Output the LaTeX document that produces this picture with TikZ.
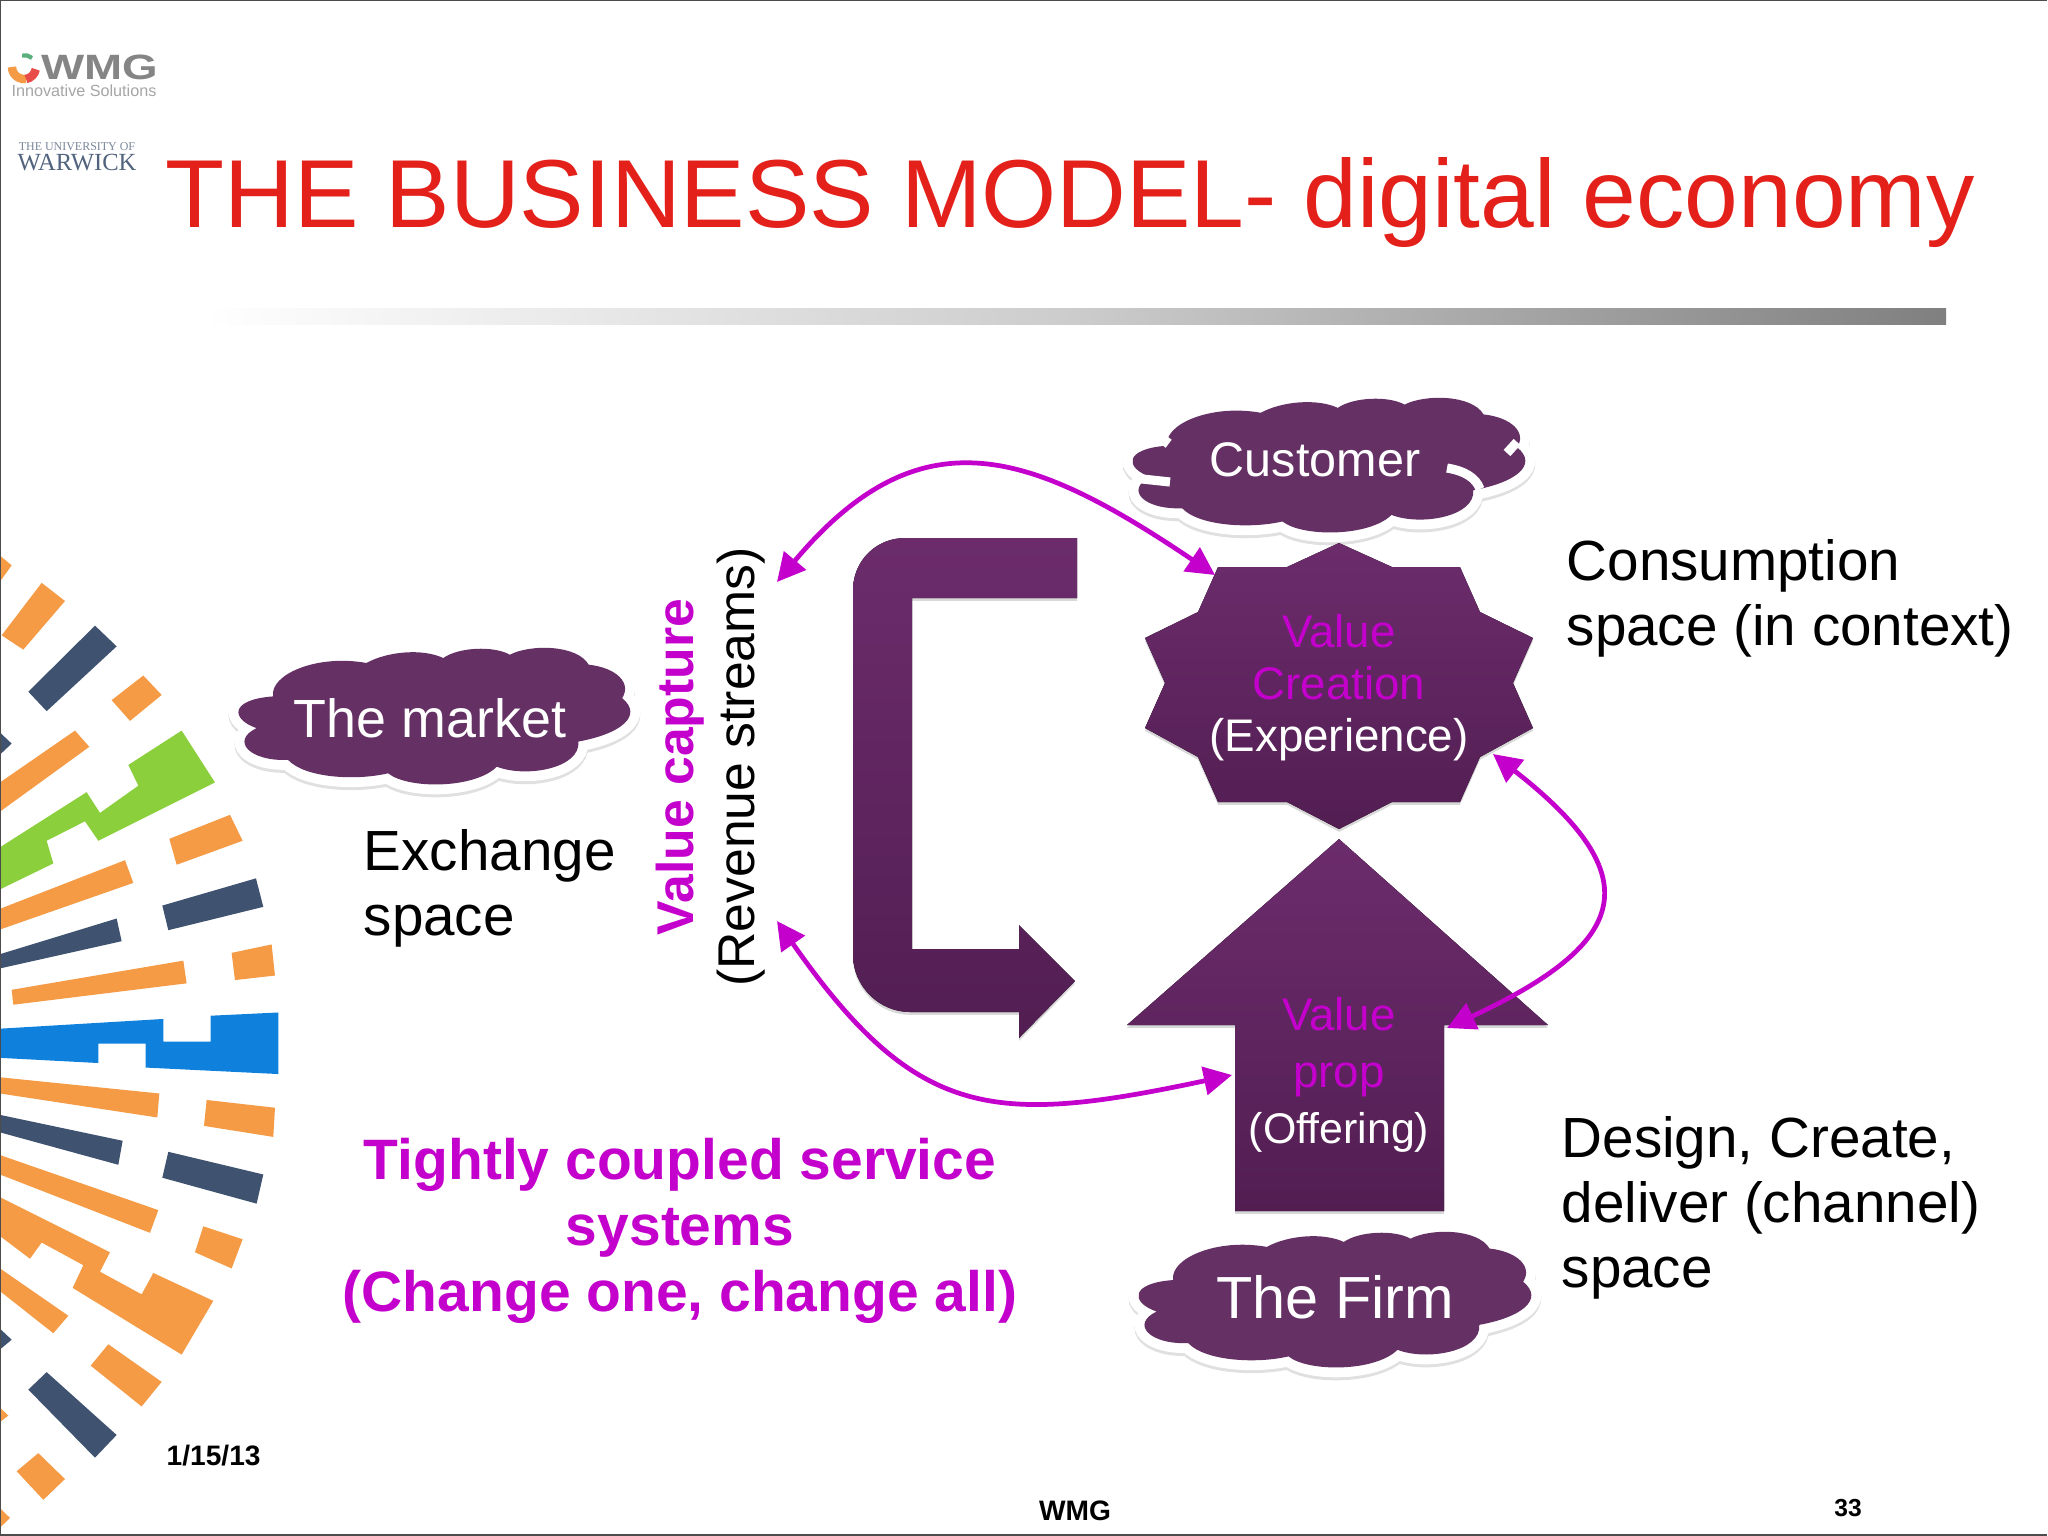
\documentclass[tikz,border=0pt]{standalone}
\usepackage{fontspec}
\setmainfont{Liberation Sans}
\newfontfamily\warwickfont{Liberation Serif}
\usetikzlibrary{positioning, arrows.meta, calc, shadows}
\definecolor{plumtop}{HTML}{6C2C6C}
\definecolor{plumlow}{HTML}{521E52}
\definecolor{plumcloud}{HTML}{653064}
\definecolor{linkmagenta}{HTML}{C400CC}
\definecolor{titlered}{HTML}{E4201A}
\definecolor{barorange}{HTML}{F59A45}
\definecolor{barnavy}{HTML}{3F5270}
\definecolor{bargreen}{HTML}{8CCF3C}
\definecolor{barblue}{HTML}{0F80DC}
\newcommand{\puffpath}{(8.9,35.8) .. controls (8,20) and (20,5) .. (32.6,11.6) .. controls (38,3) and (47,1) .. (52.1,8)
    .. controls (56,0) and (65,-1) .. (69,5.6) .. controls (74,-2) and (86,-2) .. (89,12.8)
    .. controls (96,15) and (100,26) .. (97.5,37) .. controls (103,50) and (97,63) .. (86.4,68.5)
    .. controls (87,88) and (73,95) .. (65.7,86.7) .. controls (60,103) and (43,103) .. (38.1,91.5)
    .. controls (30,97) and (17,95) .. (12.7,81.8)
    .. controls (3,83) and (-2,68) .. (4.7,58.8) .. controls (-2,52) and (-2,38) .. (8.9,35.8) -- cycle}
\newcommand{\puffcloud}[4]{%
    \path[draw=black!12, line width=5.6pt, shift={(#1,#2+3)}, xscale=#3/100, yscale=#4/100] \puffpath;
    \path[draw=white, line width=5.6pt, shift={(#1,#2)}, xscale=#3/100, yscale=#4/100] \puffpath;
    \path[fill=plumcloud, shift={(#1,#2)}, xscale=#3/100, yscale=#4/100] \puffpath;}

\begin{document}
\begin{tikzpicture}[
            x=0.01cm, y=-0.01cm,
            plumshape/.style={top color=plumtop, bottom color=plumlow, drop shadow={shadow xshift=0pt, shadow yshift=-.8pt, opacity=.3}},
            cloudtext/.style={text=white, anchor=center},
            bodytext/.style={align=left, anchor=west, inner sep=0pt, font=\fontsize{16.1}{18.5}\selectfont},
            shapetext/.style={align=center, text=white},
            hottext/.style={text=linkmagenta},
            footnote/.style={font=\fontsize{8}{9}\selectfont\bfseries},
            link/.style={draw=linkmagenta, line width=1.35pt, {Triangle[length=8pt,width=8pt]}-{Triangle[length=8pt,width=8pt]}},
            orangebar/.style={fill=barorange},
            navybar/.style={fill=barnavy}
        ]
            \useasboundingbox (0,0) rectangle (2048,1536);
            \fill[white] (0,0) rectangle (2048,1536);

            % Sunburst on the left
            \begin{scope}[shift={(0,520)}, xscale=0.3333, yscale=0.648]
                \fill[orangebar] (0,55) -- (35,70) -- (0,95) -- cycle;
                \fill[orangebar] (5,178) -- (125,97) -- (195,125) -- (70,200) -- cycle;
                \fill[navybar] (85,265) -- (285,163) -- (350,195) -- (140,295) -- cycle;
                \fill[orangebar] (335,278) -- (430,240) -- (485,270) -- (390,310) -- cycle;
                \fill[navybar] (0,328) -- (35,345) -- (0,362) -- cycle;
                \fill[orangebar] (0,405) -- (225,325) -- (268,350) -- (0,450) -- cycle;
                \fill[bargreen] (0,505) -- (260,420) -- (300,452) -- (415,410) -- (385,378) -- (545,325) -- (645,405) -- (295,495) -- (255,465) -- (140,495) -- (160,530) -- (0,570) -- cycle;
                \fill[orangebar] (508,492) -- (690,455) -- (728,495) -- (530,532) -- cycle;
                \fill[orangebar] (0,600) -- (375,525) -- (400,560) -- (0,632) -- cycle;
                \fill[navybar] (487,595) -- (768,553) -- (790,597) -- (505,633) -- cycle;
                \fill[navybar] (0,670) -- (350,615) -- (365,650) -- (0,692) -- cycle;
                \fill[orangebar] (695,668) -- (815,655) -- (825,703) -- (705,710) -- cycle;
                \fill[orangebar] (35,725) -- (550,680) -- (560,715) -- (40,748) -- cycle;
                \fill[barblue] (0,785) -- (490,770) -- (490,805) -- (632,805) -- (632,765) -- (835,760) -- (835,855) -- (437,845) -- (437,808) -- (295,808) -- (295,838) -- (0,830) -- cycle;
                \fill[orangebar] (0,860) -- (478,885) -- (472,922) -- (0,885) -- cycle;
                \fill[orangebar] (620,895) -- (825,907) -- (820,952) -- (612,935) -- cycle;
                \fill[navybar] (0,918) -- (368,958) -- (355,995) -- (0,945) -- cycle;
                \fill[navybar] (505,975) -- (790,1010) -- (770,1055) -- (487,1015) -- cycle;
                \fill[orangebar] (0,980) -- (475,1065) -- (450,1100) -- (0,1010) -- cycle;
                \fill[orangebar] (610,1090) -- (728,1110) -- (695,1155) -- (585,1130) -- cycle;
                \fill[orangebar] (0,1045) -- (330,1130) -- (300,1160) -- (425,1195) -- (460,1162) -- (640,1205) -- (545,1288) -- (218,1185) -- (250,1150) -- (125,1115) -- (90,1140) -- (0,1105) -- cycle;
                \fill[orangebar] (0,1155) -- (205,1228) -- (160,1255) -- (0,1190) -- cycle;
                \fill[navybar] (0,1248) -- (35,1265) -- (0,1280) -- cycle;
                \fill[orangebar] (325,1272) -- (485,1330) -- (425,1368) -- (272,1305) -- cycle;
                \fill[navybar] (140,1315) -- (350,1412) -- (285,1447) -- (85,1342) -- cycle;
                \fill[orangebar] (0,1370) -- (25,1382) -- (0,1392) -- cycle;
                \fill[orangebar] (115,1440) -- (195,1480) -- (130,1512) -- (50,1468) -- cycle;
                \fill[orangebar] (0,1525) -- (30,1540) -- (0,1555) -- cycle;
            \end{scope}

            % Logos
            \draw[barorange, line width=2.4pt] (12,67) arc (-180:-280:12);
            \draw[titlered!80, line width=2.4pt] (26,79) arc (-280:-350:12);
            \draw[bargreen!60!barblue, line width=1.2pt] (32,58) arc (-50:-100:12);
            \node[font=\fontsize{10}{12}\selectfont\bfseries, text=black!48, xscale=1.3, inner sep=0pt] (wmglogo) at (100,67) {WMG};
            \node[font=\fontsize{4.6}{5}\selectfont, text=black!35, inner sep=0pt] (wmgtag) at (84,91) {Innovative Solutions};
            \node[font=\warwickfont\fontsize{3.4}{4}\selectfont, text=barnavy!70, inner sep=0pt] (warwicktop) at (77,147) {THE UNIVERSITY OF};
            \node[font=\warwickfont\fontsize{7}{8}\selectfont, text=barnavy!90, inner sep=0pt] (warwick) at (77,163) {WARWICK};

            % Title and rule
            \node[anchor=west, inner sep=0pt, text=titlered, font=\fontsize{27.47}{30}\selectfont] (title) at (165,203) {THE BUSINESS MODEL- digital economy};
            \shade[left color=white, right color=black!50, middle color=black!20] (202,308) rectangle (1946,324);

            % Clouds
            \puffcloud{238}{647}{394}{138}
            \puffcloud{1132}{397}{395}{136}
            \puffcloud{1138}{1231}{395}{137}
            \draw[white, line width=2.6pt] (1447,468) .. controls (1465,471) and (1476,478) .. (1480,489);
            \draw[white, line width=2.6pt] (1133,478) -- (1170,482);
            \draw[white, line width=2.6pt] (1507,453) -- (1517,442);
            \draw[white, line width=2.6pt] (1168,437) -- (1162,445);
            \node[cloudtext, font=\fontsize{15.3}{18}\selectfont] (market) at (430,718) {The market};
            \node[cloudtext, font=\fontsize{13.8}{16}\selectfont] (customer) at (1315,460) {Customer};
            \node[cloudtext, font=\fontsize{16.9}{19}\selectfont] (firm) at (1335,1297) {The Firm};

            % Big bent arrow
            \fill[plumshape] (1077,538) -- (905,538) .. controls (876,538) and (853,561) .. (853,590) -- (853,955) .. controls (853,986) and (879,1012) .. (910,1012) -- (1019,1012) -- (1019,1038) -- (1075,981) -- (1019,925) -- (1019,949) -- (912,949) -- (912,598) -- (1077,598) -- cycle;

            % Value creation star
            \fill[plumshape] (1339,543) -- (1392,567) -- (1460,567) -- (1480,612) -- (1533,638) -- (1513,683) -- (1533,728) -- (1480,757) -- (1460,802) -- (1392,802) -- (1339,829) -- (1287,802) -- (1218,802) -- (1198,757) -- (1145,728) -- (1165,683) -- (1145,638) -- (1198,612) -- (1218,567) -- (1287,567) -- cycle;
            \node[shapetext, font=\fontsize{13}{14.8}\selectfont] (creation) at (1339,688) {\textcolor{linkmagenta}{Value}\\\textcolor{linkmagenta}{Creation}\\(Experience)};

            % Value prop arrow
            \fill[plumshape] (1339,839) -- (1548,1025) -- (1444,1025) -- (1444,1211) -- (1235,1211) -- (1235,1025) -- (1127,1025) -- cycle;
            \node[shapetext, font=\fontsize{13}{16}\selectfont] (prop) at (1339,1075) {\textcolor{linkmagenta}{Value}\\\textcolor{linkmagenta}{prop}\\\fontsize{12.2}{14.5}\selectfont(Offering)};

            % Side labels
            \node[bodytext] (exchange) at (363,888) {Exchange\\space};
            \node[bodytext] (consumption) at (1566,598) {Consumption\\space (in context)};
            \node[bodytext] (design) at (1561,1208) {Design, Create,\\deliver (channel)\\space};
            \node[align=center, rotate=90, font=\fontsize{14.7}{17.4}\selectfont] (capture) at (711,767) {\textcolor{linkmagenta}{\textbf{Value capture}}\\(Revenue streams)};
            \node[align=center, hottext, font=\fontsize{16.2}{18.7}\selectfont\bfseries] (coupled) at (680,1231) {Tightly coupled service\\systems\\(Change one, change all)};

            % Connector ends
            \coordinate (captureTop) at (777,582);
            \coordinate (captureLow) at (777,921);
            \coordinate (creationLeft) at (1215,575);
            \coordinate (creationLow) at (1493,754);
            \coordinate (propLeft) at (1232,1075);
            \coordinate (propRight) at (1447,1028);

            % Curved arrows
            \draw[link] (captureTop) to[out=50, in=146, looseness=1.3] (creationLeft);
            \draw[link] (captureLow) to[out=-55, in=192, looseness=1.3] (propLeft);
            \draw[link] (creationLow) to[out=-38, in=25, looseness=1.85] (propRight);

            % Footer
            \node[footnote, anchor=west, inner sep=0pt] (date) at (166,1456) {1/15/13};
            \node[footnote] (footer) at (1075,1511) {WMG};
            \node[footnote, font=\fontsize{7}{8}\selectfont\bfseries] (page) at (1848,1508) {33};

            % Slide edge
            \draw[black!70, line width=0.5pt] (0.5,1535) -- (0.5,0.5) -- (2047,0.5);
            \draw[black!70, line width=0.5pt] (0.5,1535) -- (2047,1535);
        \end{tikzpicture}
\end{document}
